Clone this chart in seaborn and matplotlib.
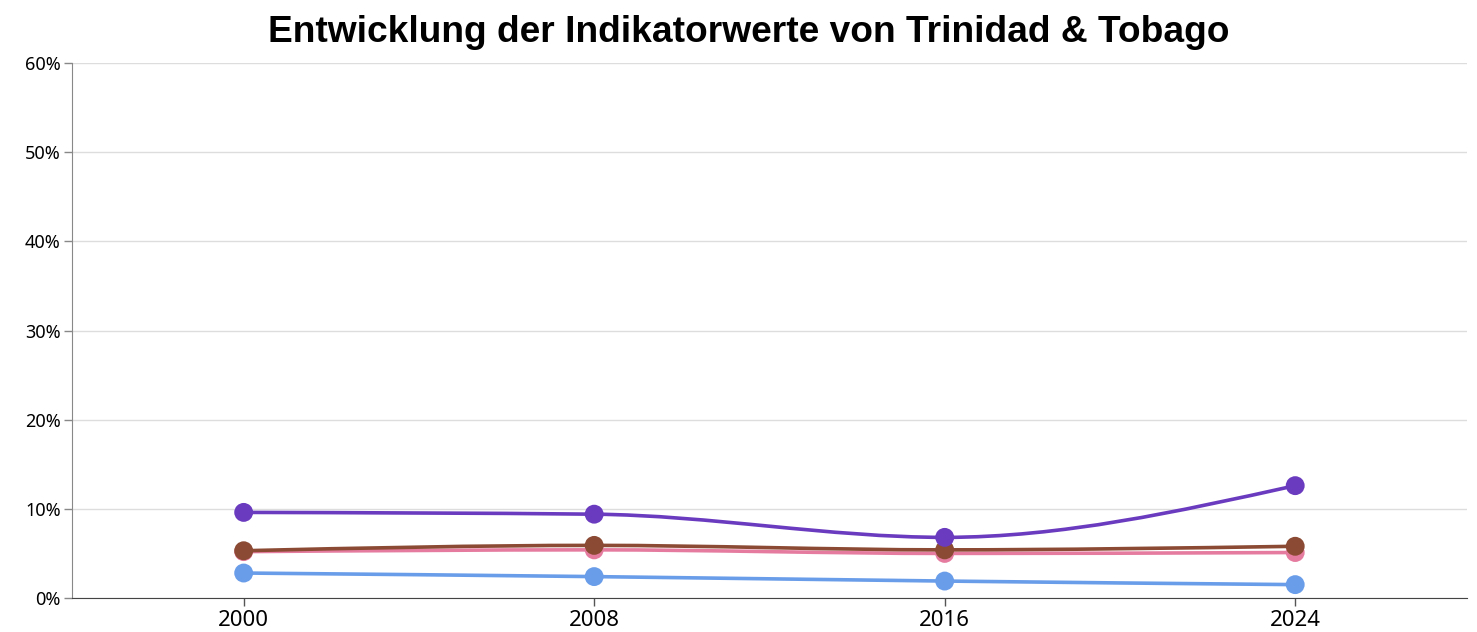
import matplotlib
matplotlib.use("Agg")
import matplotlib.pyplot as plt
from matplotlib.path import Path
from matplotlib.patches import PathPatch
from matplotlib.ticker import PercentFormatter
import seaborn as sns
import pandas as pd
import numpy as np

# values (percent)
years = ["2000", "2008", "2016", "2024"]
series_names = ["Serie A", "Serie B", "Serie C", "Serie D"]
values_pink = [5.2, 5.4, 5.0, 5.1]
values_brown = [5.3, 5.9, 5.4, 5.8]
values_blue = [2.8, 2.4, 1.9, 1.5]
values_purple = [9.6, 9.4, 6.8, 12.6]
colors = ["#e57c9f", "#8b4a33", "#6a9de9", "#6a3bbf"]


def monotone_path(xs, ys):
    # cubic bezier path like d3.curveMonotoneX
    xs = np.asarray(xs, float)
    ys = np.asarray(ys, float)
    n = len(xs)
    h = np.diff(xs)
    s = np.diff(ys) / h
    t = np.zeros(n)
    for i in range(1, n - 1):
        p = (s[i - 1] * h[i] + s[i] * h[i - 1]) / (h[i - 1] + h[i])
        t[i] = (np.sign(s[i - 1]) + np.sign(s[i])) * min(abs(s[i - 1]), abs(s[i]), 0.5 * abs(p))
    t[0] = (3 * s[0] - t[1]) / 2
    t[-1] = (3 * s[-1] - t[-2]) / 2
    verts = [(xs[0], ys[0])]
    codes = [Path.MOVETO]
    for i in range(n - 1):
        dx = h[i] / 3
        verts += [(xs[i] + dx, ys[i] + dx * t[i]),
                  (xs[i + 1] - dx, ys[i + 1] - dx * t[i + 1]),
                  (xs[i + 1], ys[i + 1])]
        codes += [Path.CURVE4] * 3
    return Path(verts, codes)


all_values = [values_pink, values_brown, values_blue, values_purple]
df = pd.DataFrame({
    "year": np.tile(years, len(series_names)),
    "pos": np.tile(np.arange(len(years)), len(series_names)),
    "series": np.repeat(series_names, len(years)),
    "value": np.concatenate(all_values),
})

sns.set_style("white")
plt.rcParams["font.family"] = ["Noto Sans", "DejaVu Sans"]
plt.rcParams["text.color"] = "black"
plt.rcParams["xtick.color"] = "black"
plt.rcParams["ytick.color"] = "black"

fig = plt.figure(figsize=(14.77, 6.32), dpi=100)
ax = fig.add_axes([0.0487, 0.0538, 0.9445, 0.8465])

for i, name in enumerate(series_names):
    sub = df[df["series"] == name]
    patch = PathPatch(monotone_path(sub["pos"], sub["value"]), facecolor="none",
                      edgecolor=colors[i], lw=2.6, capstyle="round", zorder=2 + i)
    ax.add_patch(patch)
    sns.scatterplot(data=sub, x="pos", y="value", color=colors[i], s=185,
                    edgecolor="none", ax=ax, zorder=2 + i, legend=False)

ax.set_xlim(-0.49, 3.49)
ax.set_ylim(0, 60)
ax.set_xticks(range(len(years)))
ax.set_xticklabels(years, fontsize=16)
ax.set_yticks(range(0, 61, 10))
ax.yaxis.set_major_formatter(PercentFormatter(decimals=0))
ax.tick_params(axis="y", labelsize=13, length=6, width=1, color="#888888",
               labelcolor="black", direction="out", left=True, pad=2)
ax.tick_params(axis="x", length=6, width=1, color="#555555",
               labelcolor="black", direction="out", bottom=True, pad=3)
ax.grid(axis="y", color="#dddddd", lw=1)
ax.set_axisbelow(True)
ax.set_xlabel("")
ax.set_ylabel("")
for side in ["top", "right"]:
    ax.spines[side].set_visible(False)
ax.spines["left"].set_color("#888888")
ax.spines["bottom"].set_color("#444444")

fig.text(749 / 1477, 1 - 42 / 632, "Entwicklung der Indikatorwerte von Trinidad & Tobago",
         ha="center", va="baseline", fontsize=26.7, fontweight="bold", color="black",
         family=["Liberation Sans", "DejaVu Sans"])

fig.savefig("out.png", dpi=100)
